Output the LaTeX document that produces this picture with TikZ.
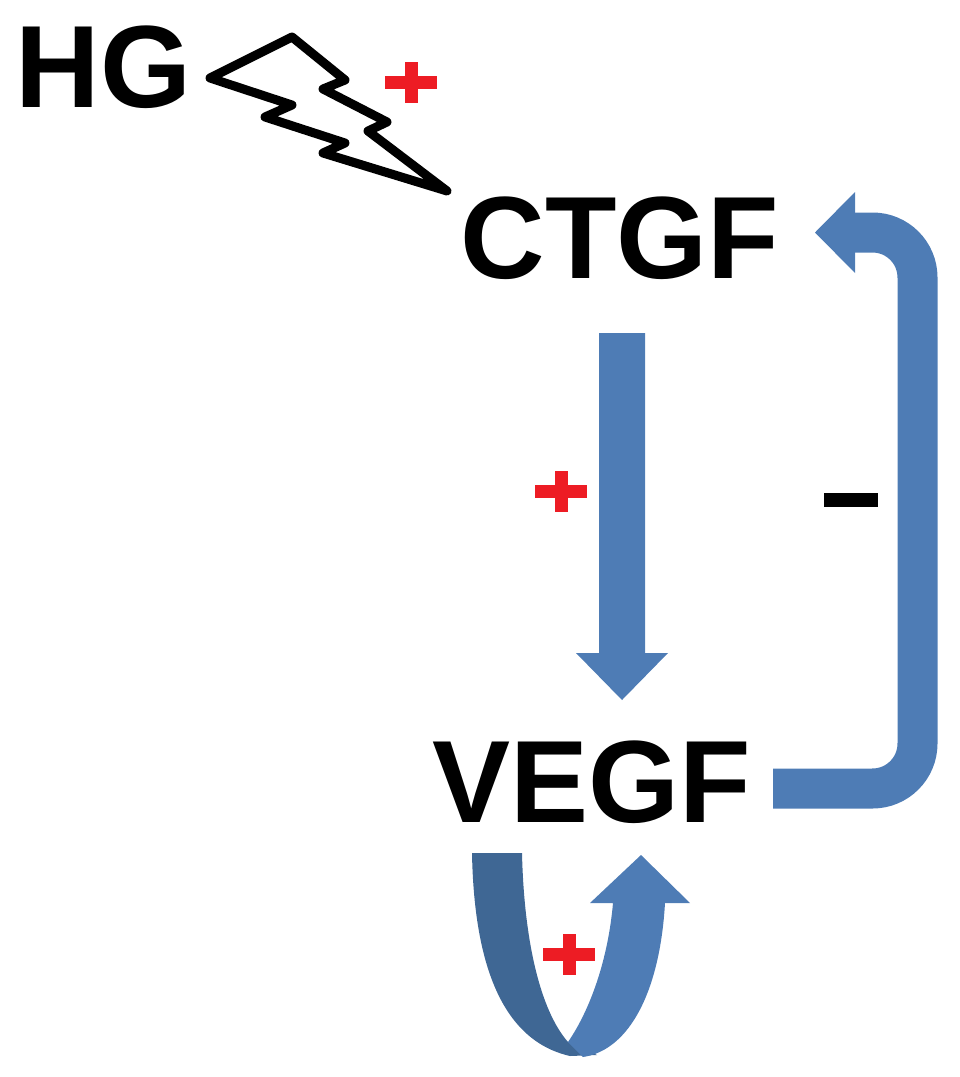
\documentclass[tikz,border=0pt]{standalone}
\usepackage{fontspec}
\setmainfont{Liberation Sans}
\definecolor{arrowblue}{HTML}{4E7CB5}
\definecolor{darkblue}{HTML}{3F6794}
\definecolor{plusred}{HTML}{ED1C24}
\tikzset{
  label/.style={inner sep=0pt, anchor=base, font=\fontsize{117}{120}\selectfont\bfseries},
  bolt/.style={draw=black, line width=9pt, line join=round, fill=white},
  bluefill/.style={fill=arrowblue, draw=none},
  bluestroke/.style={draw=arrowblue, line width=40pt, rounded corners=45pt},
  redmark/.style={fill=plusred, draw=none},
}
\newcommand{\plusmark}[2]{%
  \fill[redmark] (#1-26,#2-6.5) rectangle (#1+26,#2+6.5);
  \fill[redmark] (#1-6.5,#2-20.5) rectangle (#1+6.5,#2+20.5);}
\begin{document}
\begin{tikzpicture}[x=1pt,y=-1pt]
\useasboundingbox (0,0) rectangle (960,1077);
% texts
\node[label] (hg) at (103.5,107) {HG};
\node[label] (ctgf) at (620,278) {CTGF};
\node[label] (vegf) at (591.5,822) {VEGF};
% lightning bolt
\draw[bolt] (210,78) -- (292,37) -- (345,80) -- (323,89) -- (387,122) -- (368,131)
  -- (447,191) -- (323,153) -- (345,143) -- (265,117) -- (292,105) -- cycle;
% down arrow CTGF -> VEGF
\fill[bluefill] (599,333) -- (645,333) -- (645,653) -- (668,653) -- (622,700)
  -- (576,653) -- (599,653) -- cycle;
% feedback loop VEGF -> CTGF
\coordinate (loopstart) at (773,788.5);
\coordinate (loopend) at (855,232.5);
\draw[bluestroke] (loopstart) -- (917.5,788.5) -- (917.5,232.5) -- (loopend);
\fill[bluefill] (855,192) -- (855,273) -- (815,232.5) -- cycle;
% self loop on VEGF
\fill[darkblue] (472,853) -- (522,853)
  .. controls (524,940) and (540,1010) .. (568,1042)
  -- (597,1055) -- (570,1056)
  .. controls (500,1040) and (474,960) .. cycle;
\fill[arrowblue] (568,1042)
  .. controls (590,1010) and (608,960) .. (613,903)
  -- (590,903) -- (641,855) -- (690,903) -- (665,903)
  .. controls (660,990) and (630,1050) .. (583,1057)
  -- cycle;
% signs
\plusmark{411}{82}
\plusmark{561}{491}
\plusmark{569}{954}
\fill[black] (824,493) rectangle (878,507);
\end{tikzpicture}
\end{document}
